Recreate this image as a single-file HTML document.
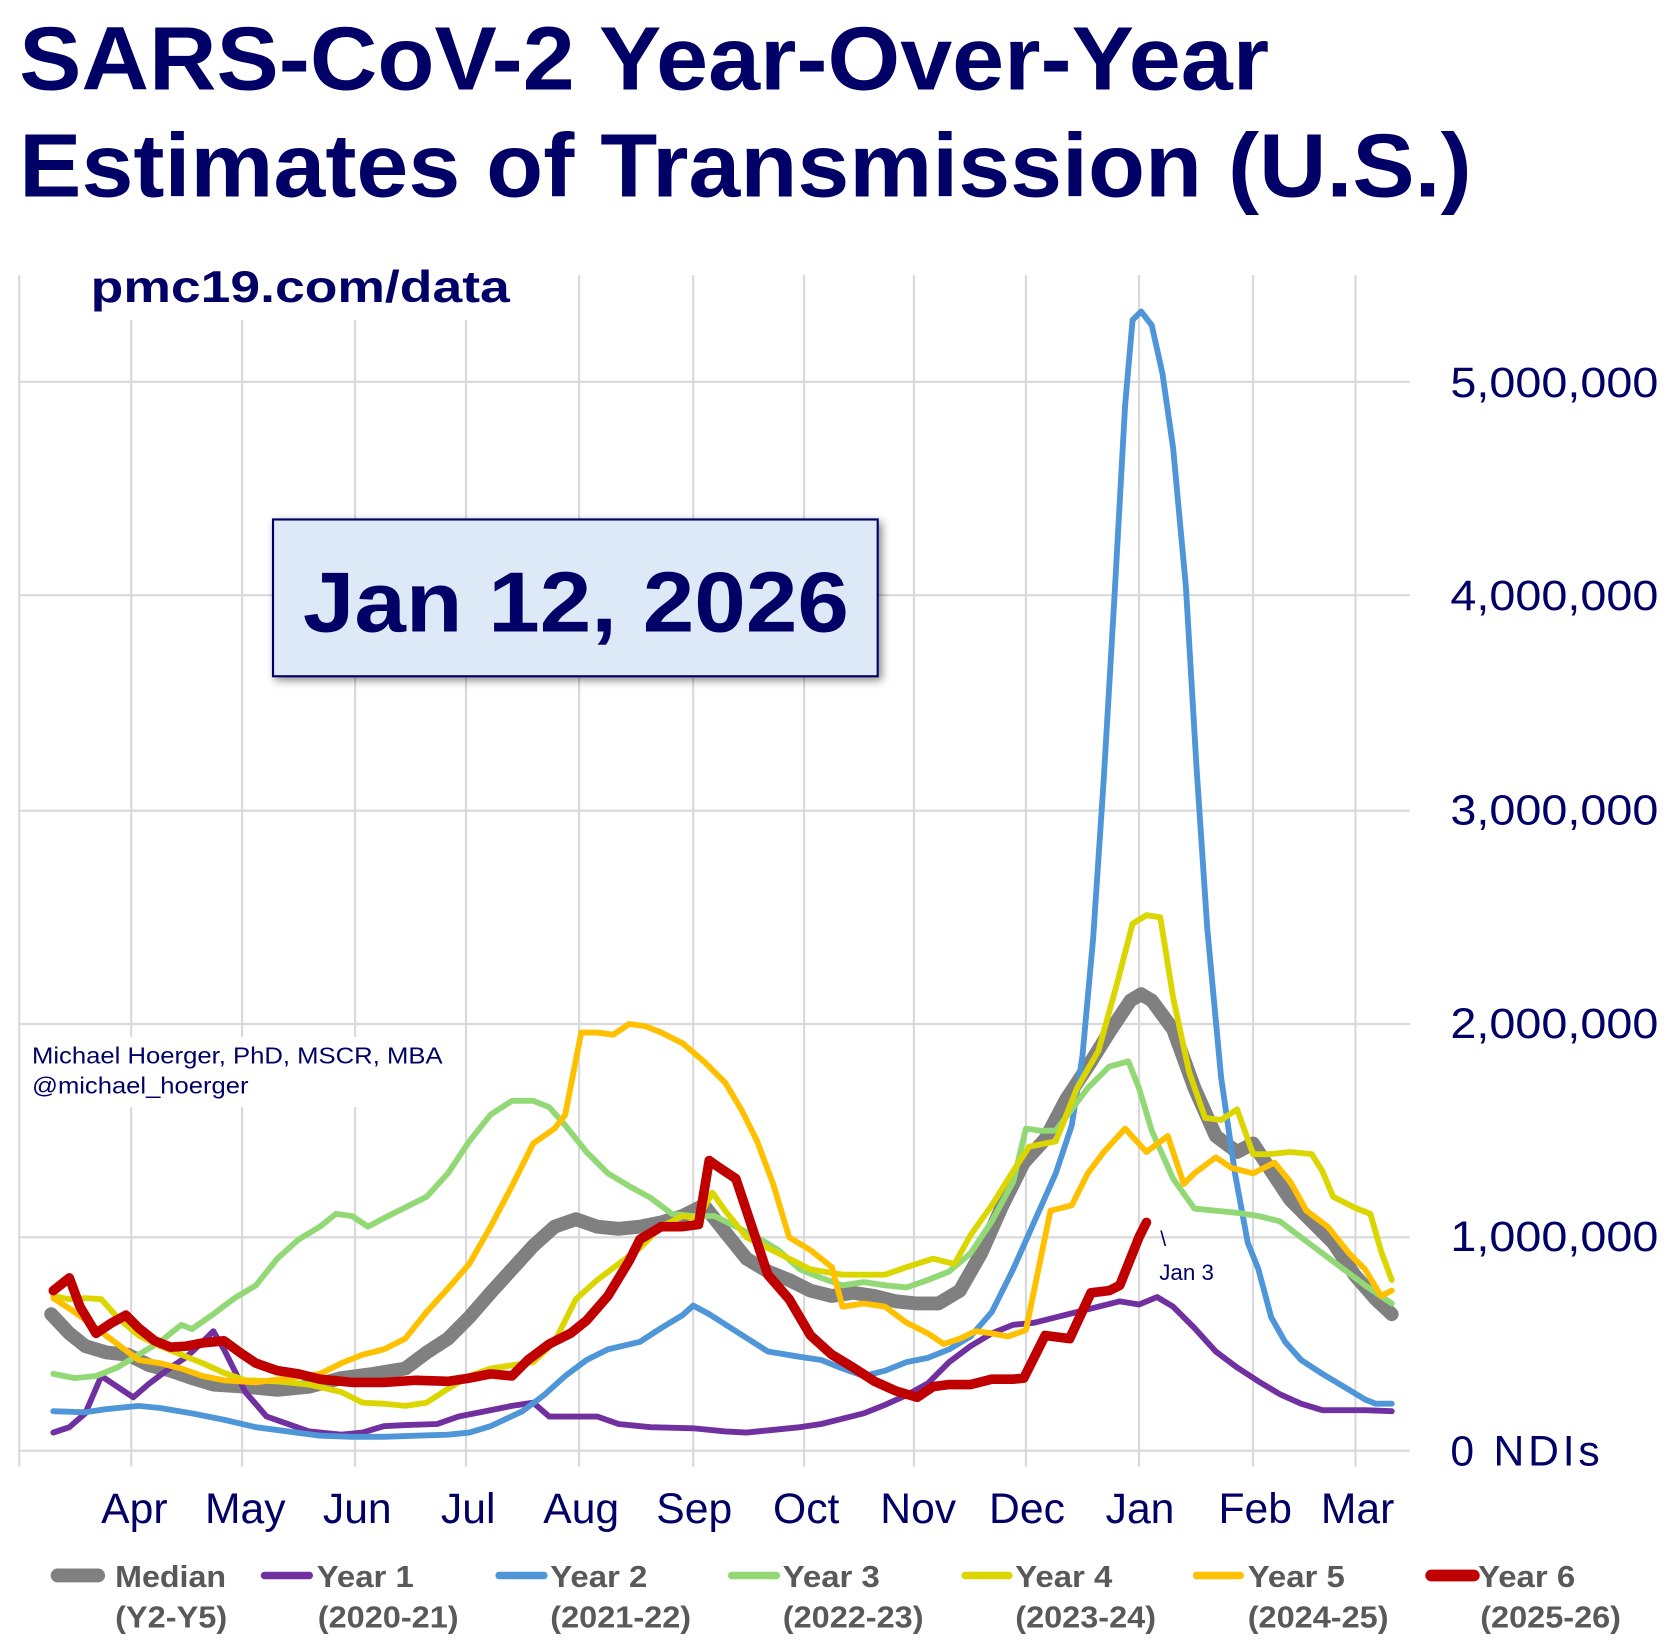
<!DOCTYPE html>
<html><head><meta charset="utf-8"><style>
html,body{margin:0;padding:0;background:#fff;}
svg{display:block;}
text{font-family:"Liberation Sans",Arial,sans-serif;}
</style></head><body>
<svg width="1669" height="1648" viewBox="0 0 1565 1545" preserveAspectRatio="none" xmlns="http://www.w3.org/2000/svg">
<defs><filter id="sh" x="-10%" y="-10%" width="130%" height="130%"><feDropShadow dx="3" dy="3" stdDeviation="4" flood-color="#000" flood-opacity="0.45"/></filter></defs>
<g stroke="#d9d9d9" stroke-width="2">
<line x1="18" y1="358" x2="1322" y2="358"/>
<line x1="18" y1="558" x2="1322" y2="558"/>
<line x1="18" y1="760" x2="1322" y2="760"/>
<line x1="18" y1="960" x2="1322" y2="960"/>
<line x1="18" y1="1160" x2="1322" y2="1160"/>
<line x1="18" y1="1360" x2="1322" y2="1360"/>
<line x1="18" y1="258" x2="18" y2="1375"/>
<line x1="123" y1="300" x2="123" y2="1375"/>
<line x1="227" y1="300" x2="227" y2="1375"/>
<line x1="333" y1="300" x2="333" y2="1375"/>
<line x1="437" y1="300" x2="437" y2="1375"/>
<line x1="543" y1="258" x2="543" y2="1375"/>
<line x1="650" y1="258" x2="650" y2="1375"/>
<line x1="754" y1="258" x2="754" y2="1375"/>
<line x1="857" y1="258" x2="857" y2="1375"/>
<line x1="962" y1="258" x2="962" y2="1375"/>
<line x1="1068" y1="258" x2="1068" y2="1375"/>
<line x1="1175" y1="258" x2="1175" y2="1375"/>
<line x1="1271" y1="258" x2="1271" y2="1375"/>
</g>
<rect x="22" y="972" width="400" height="66" fill="#fff"/>
<text x="30" y="997" font-size="22" fill="#000066" textLength="385" lengthAdjust="spacingAndGlyphs">Michael Hoerger, PhD, MSCR, MBA</text>
<text x="30" y="1025" font-size="22" fill="#000066" textLength="203" lengthAdjust="spacingAndGlyphs">@michael_hoerger</text>
<g fill="none" stroke-linejoin="round" stroke-linecap="round">
<polyline stroke="#808080" stroke-width="13" points="48,1232 65,1250 80,1262 100,1268 120,1270 140,1280 160,1285 180,1292 200,1298 230,1300 260,1303 290,1300 320,1292 350,1288 380,1283 400,1268 420,1255 440,1235 460,1212 480,1190 500,1168 520,1150 540,1143 560,1150 580,1152 600,1150 620,1146 640,1140 660,1130 680,1155 700,1180 720,1192 740,1200 760,1210 780,1215 800,1212 820,1215 840,1220 860,1222 880,1222 900,1210 920,1175 940,1130 960,1090 980,1068 1000,1030 1020,1000 1040,968 1060,938 1070,932 1080,938 1100,965 1120,1020 1140,1065 1160,1080 1175,1072 1190,1095 1210,1125 1230,1145 1250,1165 1270,1195 1290,1218 1305,1232"/>
<polyline stroke="#7030a0" stroke-width="5.5" points="50,1343 65,1338 80,1325 95,1290 110,1300 125,1310 140,1297 160,1282 175,1272 190,1258 200,1248 210,1265 230,1305 250,1328 270,1335 290,1342 320,1345 340,1343 360,1337 380,1336 410,1335 430,1328 455,1323 480,1318 500,1315 515,1328 540,1328 560,1328 580,1335 610,1338 650,1339 680,1342 700,1343 720,1341 750,1338 770,1335 790,1330 810,1325 830,1317 850,1308 870,1297 890,1277 910,1262 930,1250 950,1242 970,1240 990,1235 1010,1230 1030,1225 1050,1220 1068,1223 1085,1216 1100,1225 1120,1245 1140,1267 1160,1282 1180,1295 1200,1307 1220,1316 1240,1322 1260,1322 1280,1322 1305,1323"/>
<polyline stroke="#4f96d9" stroke-width="5.5" points="50,1323 80,1324 100,1321 130,1318 150,1320 180,1325 210,1331 240,1338 270,1342 300,1346 330,1347 360,1347 390,1346 420,1345 440,1343 460,1337 490,1323 510,1308 530,1290 550,1275 570,1265 600,1258 620,1245 640,1233 650,1224 665,1232 690,1248 720,1267 750,1272 770,1275 790,1283 810,1290 830,1285 850,1277 870,1273 890,1265 910,1253 930,1230 950,1190 970,1145 990,1100 1005,1055 1015,990 1025,880 1035,730 1045,560 1055,380 1062,300 1070,292 1080,305 1090,350 1100,420 1112,550 1122,720 1132,870 1145,1010 1158,1100 1170,1165 1180,1190 1192,1235 1205,1258 1220,1275 1240,1288 1260,1300 1280,1312 1290,1316 1305,1316"/>
<polyline stroke="#92d975" stroke-width="5.5" points="50,1288 70,1292 90,1290 110,1282 130,1270 150,1258 170,1242 180,1246 200,1232 220,1217 240,1205 260,1180 280,1162 300,1150 315,1138 330,1140 345,1150 360,1142 380,1132 400,1122 420,1100 440,1070 460,1045 480,1032 500,1032 515,1038 530,1055 550,1080 570,1100 590,1112 610,1123 630,1138 650,1140 670,1140 690,1150 710,1160 730,1172 750,1190 770,1198 790,1205 810,1202 830,1205 850,1207 870,1200 890,1192 910,1175 930,1145 950,1108 962,1058 975,1060 990,1060 1005,1040 1020,1020 1040,1000 1058,995 1068,1020 1080,1060 1100,1105 1120,1133 1140,1135 1160,1137 1180,1140 1200,1145 1220,1160 1240,1175 1260,1190 1280,1205 1305,1222"/>
<polyline stroke="#dcd600" stroke-width="5.5" points="50,1215 65,1218 80,1217 95,1218 110,1235 130,1252 150,1262 170,1270 190,1278 210,1287 230,1294 260,1295 290,1298 320,1305 340,1315 360,1316 380,1318 400,1315 420,1302 440,1290 460,1283 480,1280 500,1277 520,1258 540,1218 560,1200 580,1185 600,1170 620,1150 640,1140 655,1142 668,1118 680,1135 700,1160 720,1170 740,1180 760,1190 790,1195 810,1195 830,1195 850,1188 875,1180 895,1185 910,1158 930,1130 950,1098 965,1075 990,1070 1010,1020 1030,985 1048,920 1062,866 1075,858 1088,860 1100,935 1115,1005 1130,1048 1145,1050 1160,1040 1175,1082 1190,1082 1210,1080 1230,1082 1240,1098 1250,1122 1270,1132 1285,1138 1295,1173 1305,1200"/>
<polyline stroke="#ffc000" stroke-width="5.5" points="50,1217 70,1230 90,1245 110,1260 130,1275 150,1278 170,1283 190,1290 210,1294 240,1296 270,1292 300,1288 320,1278 340,1270 360,1265 380,1255 400,1230 420,1208 440,1185 460,1150 480,1112 500,1072 520,1058 530,1045 545,968 560,968 575,970 590,960 605,962 620,968 640,978 660,995 680,1015 695,1040 710,1070 725,1110 740,1160 760,1172 780,1188 790,1225 810,1222 830,1225 850,1240 870,1250 885,1260 900,1255 915,1248 930,1250 945,1253 962,1247 985,1135 1005,1130 1020,1100 1035,1080 1055,1058 1075,1080 1095,1065 1110,1110 1120,1100 1140,1085 1155,1095 1175,1100 1195,1090 1210,1108 1225,1135 1245,1150 1265,1175 1280,1190 1295,1215 1305,1210"/>
<polyline stroke="#c00000" stroke-width="9" points="50,1210 65,1198 75,1225 90,1250 105,1240 118,1233 130,1245 145,1257 160,1263 175,1262 190,1259 210,1257 225,1268 240,1278 260,1285 280,1288 300,1293 330,1296 360,1296 390,1294 420,1295 440,1292 460,1288 480,1290 495,1275 515,1260 535,1250 550,1238 570,1215 590,1182 600,1162 620,1150 640,1150 655,1148 665,1088 675,1095 690,1105 705,1150 720,1195 740,1218 760,1252 780,1270 800,1282 820,1295 840,1304 860,1310 875,1300 890,1298 910,1298 930,1293 950,1293 960,1292 980,1252 1003,1255 1023,1212 1040,1210 1050,1205 1068,1160 1075,1146"/>
</g>
<text x="1088" y="1168" font-size="20" fill="#000066">\</text>
<text x="1087" y="1200" font-size="21" fill="#000066">Jan 3</text>
<rect x="256" y="487" width="567" height="147" fill="#dde9f6" stroke="#000066" stroke-width="2" filter="url(#sh)"/>
<text x="540" y="592" font-size="80" font-weight="bold" fill="#000066" text-anchor="middle" textLength="512" lengthAdjust="spacingAndGlyphs">Jan 12, 2026</text>
<text x="18" y="84" font-size="84" font-weight="bold" fill="#000066" textLength="1172" lengthAdjust="spacingAndGlyphs">SARS-CoV-2 Year-Over-Year</text>
<text x="18" y="184" font-size="84" font-weight="bold" fill="#000066" textLength="1362" lengthAdjust="spacingAndGlyphs">Estimates of Transmission (U.S.)</text>
<text x="85" y="283" font-size="42" font-weight="bold" fill="#000066" textLength="393" lengthAdjust="spacingAndGlyphs">pmc19.com/data</text>
<g font-size="40" fill="#000066">
<text x="1360" y="372" textLength="195" lengthAdjust="spacingAndGlyphs">5,000,000</text>
<text x="1360" y="572" textLength="195" lengthAdjust="spacingAndGlyphs">4,000,000</text>
<text x="1360" y="773" textLength="195" lengthAdjust="spacingAndGlyphs">3,000,000</text>
<text x="1360" y="973" textLength="195" lengthAdjust="spacingAndGlyphs">2,000,000</text>
<text x="1360" y="1173" textLength="195" lengthAdjust="spacingAndGlyphs">1,000,000</text>
<text x="1360" y="1374" textLength="140" lengthAdjust="spacing">0  NDIs</text>
</g>
<g font-size="40" fill="#000066" text-anchor="middle">
<text x="126" y="1428">Apr</text><text x="230" y="1428">May</text><text x="335" y="1428">Jun</text>
<text x="439" y="1428">Jul</text><text x="545" y="1428">Aug</text><text x="651" y="1428">Sep</text>
<text x="756" y="1428">Oct</text><text x="861" y="1428">Nov</text><text x="963" y="1428">Dec</text>
<text x="1069" y="1428">Jan</text><text x="1177" y="1428">Feb</text><text x="1273" y="1428">Mar</text>
</g>
<g stroke-linecap="round">
<line x1="54" y1="1477" x2="92" y2="1477" stroke="#808080" stroke-width="13"/>
<line x1="248" y1="1477" x2="290" y2="1477" stroke="#7030a0" stroke-width="7"/>
<line x1="468" y1="1477" x2="510" y2="1477" stroke="#4f96d9" stroke-width="7"/>
<line x1="686" y1="1477" x2="728" y2="1477" stroke="#92d975" stroke-width="7"/>
<line x1="905" y1="1477" x2="946" y2="1477" stroke="#dcd600" stroke-width="7"/>
<line x1="1122" y1="1477" x2="1163" y2="1477" stroke="#ffc000" stroke-width="7"/>
<line x1="1342" y1="1477" x2="1382" y2="1477" stroke="#c00000" stroke-width="11"/>
</g>
<g font-size="29" font-weight="bold" fill="#595959">
<text x="108" y="1488" textLength="104" lengthAdjust="spacingAndGlyphs">Median</text><text x="108" y="1526" textLength="105" lengthAdjust="spacingAndGlyphs">(Y2-Y5)</text>
<text x="297" y="1488" textLength="91" lengthAdjust="spacingAndGlyphs">Year 1</text><text x="298" y="1526" textLength="132" lengthAdjust="spacingAndGlyphs">(2020-21)</text>
<text x="516" y="1488" textLength="91" lengthAdjust="spacingAndGlyphs">Year 2</text><text x="516" y="1526" textLength="132" lengthAdjust="spacingAndGlyphs">(2021-22)</text>
<text x="734" y="1488" textLength="91" lengthAdjust="spacingAndGlyphs">Year 3</text><text x="734" y="1526" textLength="132" lengthAdjust="spacingAndGlyphs">(2022-23)</text>
<text x="952" y="1488" textLength="91" lengthAdjust="spacingAndGlyphs">Year 4</text><text x="952" y="1526" textLength="132" lengthAdjust="spacingAndGlyphs">(2023-24)</text>
<text x="1170" y="1488" textLength="91" lengthAdjust="spacingAndGlyphs">Year 5</text><text x="1170" y="1526" textLength="132" lengthAdjust="spacingAndGlyphs">(2024-25)</text>
<text x="1386" y="1488" textLength="91" lengthAdjust="spacingAndGlyphs">Year 6</text><text x="1388" y="1526" textLength="132" lengthAdjust="spacingAndGlyphs">(2025-26)</text>
</g>
</svg>
</body></html>
